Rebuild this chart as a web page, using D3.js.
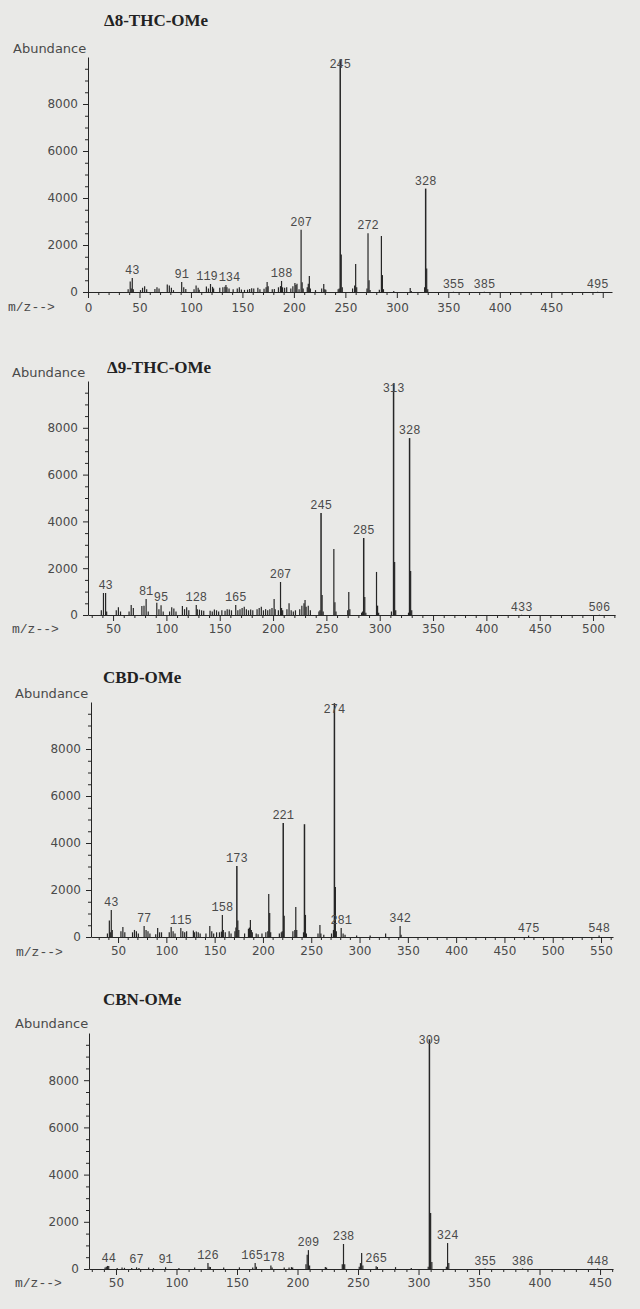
<!DOCTYPE html>
<html><head><meta charset="utf-8">
<script src="https://cdn.jsdelivr.net/npm/d3@7/dist/d3.min.js"></script>
<style>
html,body{margin:0;padding:0;background:#e9e9e7;}
svg{display:block;}
</style></head><body>
<svg id="c" width="640" height="1309"></svg>
<script>
// ---------- DATA ----------
const titles = ["Δ8-THC-OMe", "Δ9-THC-OMe", "CBD-OMe", "CBN-OMe"];
const yTickValues = [0, 2000, 4000, 6000, 8000];

// [m/z, abundance]
const d8Peaks = [[39,120],[41,450],[42,150],[43,600],[44,120],[51,80],[53,180],[55,250],[57,120],[65,130],[67,200],[69,150],[77,320],[79,280],[81,180],[83,80],[91,430],[93,200],[95,130],[103,120],[105,280],[107,180],[108,100],[115,230],[117,150],[119,340],[121,220],[122,150],[128,180],[131,200],[133,220],[134,300],[135,200],[137,150],[141,120],[145,150],[147,200],[149,110],[152,90],[155,100],[157,130],[159,160],[161,150],[165,180],[167,120],[171,140],[173,200],[174,430],[175,250],[179,120],[181,130],[185,200],[187,250],[188,470],[189,200],[191,180],[193,200],[197,150],[199,250],[201,380],[202,300],[203,350],[205,120],[207,2650],[208,420],[209,150],[213,200],[214,350],[215,680],[216,150],[221,80],[227,150],[229,340],[230,120],[231,100],[243,120],[244,150],[245,9900],[246,1600],[247,200],[257,150],[259,280],[260,1190],[261,200],[271,150],[272,2500],[273,500],[274,80],[283,100],[285,2380],[286,720],[287,120],[297,40],[313,170],[314,40],[327,200],[328,4400],[329,1000],[330,120],[355,10],[385,10],[495,10]];
const d8Labels = [43,91,119,134,188,207,245,272,328,355,385,495];
const d8Ticks = [0,50,100,150,200,250,300,350,400,450];

const d9Peaks = [[39,200],[41,940],[43,940],[44,150],[53,200],[55,330],[57,150],[65,150],[67,430],[69,300],[77,380],[79,400],[81,680],[83,150],[91,520],[93,250],[95,420],[97,150],[103,150],[105,330],[107,280],[109,150],[115,380],[117,250],[119,330],[121,200],[128,430],[129,250],[131,230],[133,200],[135,180],[141,180],[143,150],[145,230],[147,200],[149,150],[152,200],[155,180],[157,250],[159,230],[161,200],[165,430],[167,200],[169,250],[171,300],[173,350],[175,250],[177,200],[179,230],[181,200],[185,250],[187,300],[189,350],[191,200],[193,250],[195,200],[197,250],[199,300],[201,680],[202,250],[205,200],[207,1410],[208,300],[209,200],[213,250],[215,500],[217,200],[219,150],[221,200],[225,250],[227,400],[229,500],[230,640],[231,350],[233,400],[235,200],[243,150],[244,200],[245,4360],[246,850],[247,150],[257,2820],[258,550],[259,150],[270,200],[271,980],[272,250],[283,100],[284,150],[285,3290],[286,770],[287,100],[297,1840],[298,400],[299,100],[311,150],[313,9900],[314,2260],[315,200],[327,100],[328,7560],[329,1880],[330,200],[433,10],[506,10]];
const d9Labels = [43,81,95,128,165,207,245,285,313,328,433,506];
const d9Ticks = [50,100,150,200,250,300,350,400,450,500];

const cbdPeaks = [[39,150],[41,700],[42,200],[43,1150],[44,300],[53,250],[55,430],[57,200],[65,200],[67,300],[69,250],[71,150],[77,470],[79,300],[81,250],[83,150],[89,120],[91,380],[93,200],[95,200],[103,200],[105,430],[107,250],[109,150],[115,380],[117,250],[119,200],[121,250],[128,280],[129,200],[131,230],[133,200],[135,150],[141,150],[145,470],[147,250],[149,150],[152,200],[155,200],[157,230],[158,940],[159,300],[161,200],[165,250],[167,150],[171,250],[172,400],[173,3020],[174,700],[175,300],[181,150],[185,350],[186,400],[187,720],[188,300],[189,200],[193,150],[195,120],[199,150],[203,200],[205,250],[206,1830],[207,1020],[208,200],[217,150],[219,200],[220,250],[221,4850],[222,900],[231,250],[233,300],[234,1280],[235,300],[242,200],[243,4800],[244,940],[245,150],[257,150],[259,510],[260,150],[263,100],[271,150],[273,300],[274,9950],[275,2130],[276,250],[281,380],[283,150],[285,100],[297,60],[311,60],[327,150],[342,470],[343,100],[475,60],[548,60]];
const cbdLabels = [43,77,115,158,173,221,274,281,342,475,548];
const cbdTicks = [50,100,150,200,250,300,350,400,450,500,550];

const cbnPeaks = [[41,60],[42,100],[43,130],[44,130],[51,40],[55,60],[57,50],[63,40],[67,70],[69,40],[77,60],[81,40],[91,70],[102,40],[115,60],[126,250],[127,100],[128,80],[139,60],[152,70],[163,60],[165,250],[166,100],[178,150],[179,60],[189,60],[193,60],[195,80],[196,60],[207,200],[208,600],[209,800],[210,150],[223,80],[224,60],[237,200],[238,1060],[239,200],[251,100],[252,250],[253,680],[254,150],[265,120],[266,80],[281,80],[294,40],[308,100],[309,9700],[310,2370],[311,300],[323,100],[324,1100],[325,250],[355,20],[386,20],[448,20]];
const cbnLabels = [44,67,91,126,165,178,209,238,265,309,324,355,386,448];
const cbnTicks = [50,100,150,200,250,300,350,400,450];

// ---------- LAYOUT ----------
const panels = [
  {title:titles[0], peaks:d8Peaks, labels:d8Labels, ticks:d8Ticks, mzDomain:[0,509],
   axisX:88, axisEnd:612, top:57, base:292, titleX:104, titleY:26, abX:13, abY:53, mzX:8, mzY:311, tickPad:5,
   labelShift:{119:-3.5, 134:3.5}},
  {title:titles[1], peaks:d9Peaks, labels:d9Labels, ticks:d9Ticks, mzDomain:[26.5,520.6],
   axisX:88, axisEnd:615, top:381, base:615, titleX:107, titleY:373, abX:12, abY:377, mzX:12, mzY:633, tickPad:3,
   labelShift:{}},
  {title:titles[2], peaks:cbdPeaks, labels:cbdLabels, ticks:cbdTicks, mzDomain:[22,562.4],
   axisX:91, axisEnd:613, top:702, base:937, titleX:103, titleY:683, abX:15, abY:698, mzX:16, mzY:956, tickPad:3,
   labelShift:{}},
  {title:titles[3], peaks:cbnPeaks, labels:cbnLabels, ticks:cbnTicks, mzDomain:[27.7,460.7],
   axisX:89, axisEnd:613, top:1033, base:1269, titleX:103, titleY:1005, abX:15, abY:1028, mzX:15, mzY:1287, tickPad:3,
   labelShift:{165:-3, 178:3}}
];

const ink = "#262626";
const grayText = "#4a4a4a";
const svg = d3.select("#c");

panels.forEach(p => {
  const x = d3.scaleLinear().domain(p.mzDomain).range([p.axisX, p.axisEnd]);
  const y = d3.scaleLinear().domain([0, 10000]).range([p.base, p.top]);
  const g = svg.append("g");

  g.append("text").attr("x", p.titleX).attr("y", p.titleY)
    .attr("font-family", "'Liberation Serif', 'Times New Roman', serif")
    .attr("font-weight", "bold").attr("font-size", 17).attr("fill", "#222")
    .text(p.title);

  g.append("text").attr("x", p.abX).attr("y", p.abY)
    .attr("font-family", "'DejaVu Sans', sans-serif").attr("font-size", 13)
    .attr("fill", grayText).text("Abundance");

  g.append("text").attr("x", p.mzX).attr("y", p.mzY)
    .attr("font-family", "'Liberation Mono', monospace").attr("font-size", 13)
    .attr("fill", grayText).text("m/z-->");

  // Y axis (major + minor)
  const yMinor = d3.range(500, 10000, 500).filter(v => v % 2000 !== 0);
  const yAx = g.append("g").attr("transform", `translate(${p.axisX},0)`)
    .call(d3.axisLeft(y).tickValues(yTickValues).tickSize(5).tickSizeOuter(0).tickPadding(5).tickFormat(d3.format("d")));
  yAx.selectAll("path,line").attr("stroke", ink);
  yAx.selectAll("text").attr("font-family", "'DejaVu Sans', sans-serif").attr("font-size", 12).attr("fill", grayText);
  const yAxM = g.append("g").attr("transform", `translate(${p.axisX},0)`)
    .call(d3.axisLeft(y).tickValues(yMinor).tickSize(3).tickSizeOuter(0).tickFormat(""));
  yAxM.select("path").remove();
  yAxM.selectAll("line").attr("stroke", ink);

  // X axis (major + minor)
  const majors = d3.range(Math.ceil(p.mzDomain[0] / 50) * 50, p.mzDomain[1], 50);
  const xAx = g.append("g").attr("transform", `translate(0,${p.base})`)
    .call(d3.axisBottom(x).tickValues(majors).tickSize(6).tickSizeOuter(0).tickPadding(p.tickPad)
      .tickFormat(v => p.ticks.includes(v) ? String(v) : ""));
  xAx.selectAll("path,line").attr("stroke", ink);
  xAx.selectAll("text").attr("font-family", "'DejaVu Sans', sans-serif").attr("font-size", 12).attr("fill", grayText);
  const minors = d3.range(Math.ceil(p.mzDomain[0] / 10) * 10, p.mzDomain[1], 10).filter(v => v % 50 !== 0);
  const xAxM = g.append("g").attr("transform", `translate(0,${p.base})`)
    .call(d3.axisBottom(x).tickValues(minors).tickSize(3).tickSizeOuter(0).tickFormat(""));
  xAxM.select("path").remove();
  xAxM.selectAll("line").attr("stroke", ink);

  // peaks
  g.append("g").selectAll("line").data(p.peaks).join("line")
    .attr("x1", d => x(d[0])).attr("x2", d => x(d[0]))
    .attr("y1", y(0)).attr("y2", d => y(d[1]))
    .attr("stroke", ink).attr("stroke-width", d => d[1] > 3000 ? 1.5 : 1.2);

  // peak labels
  const abOf = mz => { const f = p.peaks.find(d => d[0] === mz); return f ? f[1] : 0; };
  g.append("g").selectAll("text").data(p.labels).join("text")
    .attr("x", d => x(d) + (p.labelShift[d] || 0))
    .attr("y", d => Math.max(y(abOf(d)) - 4, p.top + 11))
    .attr("text-anchor", "middle")
    .attr("font-family", "'Liberation Mono', monospace").attr("font-size", 12)
    .attr("fill", grayText)
    .text(d => d);
});
</script>
</body></html>
